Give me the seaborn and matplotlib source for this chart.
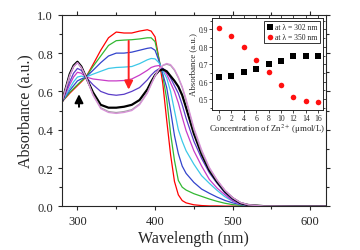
import numpy as np
import pandas as pd
import matplotlib
matplotlib.use("Agg")
import matplotlib.pyplot as plt
from matplotlib.ticker import MultipleLocator
import seaborn as sns

# Espectros UV-vis (absorbancia vs longitud de onda)
wavelength = [280, 290, 295, 300, 305, 311, 320, 330, 340, 350, 360, 370, 380, 390, 395,
              400, 405, 410, 415, 420, 425, 430, 435, 440, 450, 460, 470, 480, 490, 500,
              510, 520, 540, 580, 620]

abs_0 = [0.545, 0.59, 0.61, 0.63, 0.65, 0.675, 0.74, 0.815, 0.88, 0.91, 0.905, 0.905, 0.915, 0.922, 0.915,
         0.885, 0.77, 0.64, 0.45, 0.27, 0.13, 0.06, 0.03, 0.018, 0.008, 0.004, 0.002, 0.002, 0.001, 0.001,
         0.001, 0.001, 0.0, 0.0, 0.0]
abs_2 = [0.545, 0.595, 0.615, 0.635, 0.655, 0.675, 0.73, 0.785, 0.84, 0.865, 0.868, 0.87, 0.874, 0.88, 0.88,
         0.86, 0.77, 0.68, 0.56, 0.38, 0.24, 0.135, 0.10, 0.085, 0.066, 0.052, 0.038, 0.026, 0.016, 0.009,
         0.005, 0.003, 0.001, 0.0, 0.0]
abs_4 = [0.545, 0.605, 0.63, 0.655, 0.665, 0.675, 0.71, 0.75, 0.785, 0.80, 0.80, 0.805, 0.815, 0.825, 0.828,
         0.815, 0.76, 0.69, 0.62, 0.50, 0.37, 0.275, 0.21, 0.172, 0.125, 0.09, 0.068, 0.048, 0.031, 0.018,
         0.009, 0.004, 0.001, 0.0, 0.0]
abs_6 = [0.545, 0.615, 0.65, 0.675, 0.68, 0.675, 0.69, 0.705, 0.72, 0.725, 0.727, 0.73, 0.745, 0.765, 0.772,
         0.77, 0.75, 0.71, 0.67, 0.60, 0.50, 0.40, 0.34, 0.29, 0.22, 0.16, 0.12, 0.083, 0.05, 0.026,
         0.012, 0.005, 0.001, 0.0, 0.0]
abs_8 = [0.545, 0.635, 0.675, 0.70, 0.695, 0.675, 0.665, 0.66, 0.655, 0.655, 0.657, 0.665, 0.685, 0.71, 0.725,
         0.732, 0.735, 0.72, 0.69, 0.645, 0.60, 0.54, 0.465, 0.395, 0.29, 0.21, 0.14, 0.095, 0.06, 0.028,
         0.012, 0.005, 0.001, 0.0, 0.0]
abs_10 = [0.545, 0.65, 0.695, 0.72, 0.71, 0.675, 0.635, 0.60, 0.585, 0.58, 0.585, 0.60, 0.62, 0.66, 0.685,
          0.705, 0.718, 0.72, 0.705, 0.67, 0.63, 0.59, 0.53, 0.46, 0.34, 0.25, 0.175, 0.12, 0.07, 0.035,
          0.015, 0.006, 0.001, 0.0, 0.0]
abs_12 = [0.545, 0.69, 0.735, 0.755, 0.73, 0.675, 0.595, 0.53, 0.515, 0.515, 0.52, 0.53, 0.555, 0.61, 0.65,
          0.685, 0.708, 0.715, 0.705, 0.68, 0.655, 0.625, 0.58, 0.515, 0.38, 0.272, 0.188, 0.128, 0.078, 0.042,
          0.017, 0.007, 0.001, 0.0, 0.0]
abs_14 = [0.545, 0.685, 0.73, 0.75, 0.725, 0.675, 0.585, 0.515, 0.495, 0.49, 0.495, 0.505, 0.535, 0.595, 0.64,
          0.683, 0.715, 0.735, 0.742, 0.735, 0.71, 0.67, 0.62, 0.55, 0.40, 0.285, 0.197, 0.134, 0.082, 0.044,
          0.019, 0.008, 0.001, 0.0, 0.0]
abs_16 = [0.545, 0.68, 0.728, 0.75, 0.725, 0.675, 0.58, 0.51, 0.49, 0.485, 0.49, 0.50, 0.53, 0.59, 0.635,
          0.68, 0.715, 0.737, 0.746, 0.74, 0.715, 0.675, 0.625, 0.56, 0.41, 0.295, 0.203, 0.138, 0.085, 0.046,
          0.02, 0.008, 0.001, 0.0, 0.0]

spectra = [abs_0, abs_2, abs_4, abs_6, abs_8, abs_10, abs_12, abs_14, abs_16]
colores = ['#ff0000', '#33b833', '#3344cc', '#3cc8e8', '#c83cc8', '#5a3cc8', '#000000', '#a8a0a8', '#d890d8']

# Inset: absorbancia vs concentracion de Zn2+
conc = [0, 2, 4, 6, 8, 10, 12, 14, 16]
abs_302 = [0.63, 0.635, 0.655, 0.675, 0.70, 0.72, 0.745, 0.75, 0.75]
abs_350 = [0.91, 0.865, 0.80, 0.725, 0.655, 0.58, 0.515, 0.49, 0.485]

sns.set_style('ticks')
plt.rcParams['font.family'] = ['Liberation Serif', 'DejaVu Serif']
plt.rcParams['mathtext.fontset'] = 'stix'
plt.rcParams['axes.linewidth'] = 0.8

fig = plt.figure(figsize=(3.6, 2.51), dpi=100)
ax = fig.add_axes([0.172, 0.174, 0.733, 0.763])

for c, y, col in zip(conc, spectra, colores):
    df = pd.DataFrame({'wl': wavelength, 'abs': y})
    lw = 1.6 if col == '#000000' else 0.9
    sns.lineplot(data=df, x='wl', y='abs', color=col, lw=lw, ax=ax)

# flechas
ax.annotate('', xy=(302, 0.60), xytext=(302, 0.505),
            arrowprops=dict(arrowstyle='-|>,head_width=0.25,head_length=0.5', color='black', lw=1.4))
ax.annotate('', xy=(366, 0.595), xytext=(366, 0.878),
            arrowprops=dict(arrowstyle='-|>,head_width=0.25,head_length=0.5', color='#ff2020', lw=1.4))

ax.set_xlim(280, 620)
ax.set_ylim(0, 1.0)
ax.xaxis.set_major_locator(MultipleLocator(100))
ax.xaxis.set_minor_locator(MultipleLocator(50))
ax.yaxis.set_major_locator(MultipleLocator(0.2))
ax.yaxis.set_minor_locator(MultipleLocator(0.1))
ax.tick_params(which='both', direction='out', top=True, right=True, labelsize=9, width=0.8)
ax.tick_params(which='major', length=3)
ax.tick_params(which='minor', length=2)
ax.set_xlabel('Wavelength (nm)', fontsize=11.5, labelpad=2)
ax.set_ylabel('Absorbance (a.u.)', fontsize=11.5, labelpad=3)
for s in ax.spines.values():
    s.set_visible(True)

# inset
axi = fig.add_axes([0.589, 0.559, 0.307, 0.365])
sns.scatterplot(x=conc, y=abs_302, marker='s', color='black', s=14, linewidth=0,
                label='at λ = 302 nm', ax=axi)
sns.scatterplot(x=conc, y=abs_350, marker='o', color='#ff1010', s=16, linewidth=0,
                label='at λ = 350 nm', ax=axi)
axi.set_xlim(-1.1, 16.7)
axi.set_ylim(0.44, 0.965)
axi.xaxis.set_major_locator(MultipleLocator(2))
axi.yaxis.set_major_locator(MultipleLocator(0.1))
axi.yaxis.set_minor_locator(MultipleLocator(0.05))
axi.tick_params(which='both', direction='out', top=True, right=True, labelsize=5.5, pad=1, width=0.6)
axi.tick_params(which='major', length=2)
axi.tick_params(which='minor', length=1.2)
axi.set_xlabel('Concentration of Zn$^{2+}$ (μmol/L)', fontsize=6.3, labelpad=0)
axi.set_ylabel('Absorbance (a.u.)', fontsize=6.3, labelpad=1)
for s in axi.spines.values():
    s.set_visible(True)
    s.set_linewidth(0.7)
leg = axi.legend(loc='upper right', fontsize=5.5, frameon=True, fancybox=False, edgecolor='black',
                 handletextpad=0.1, borderpad=0.3, labelspacing=0.2, handlelength=1.0,
                 borderaxespad=0.4)
leg.get_frame().set_linewidth(0.7)

fig.savefig('out.png', dpi=100)
